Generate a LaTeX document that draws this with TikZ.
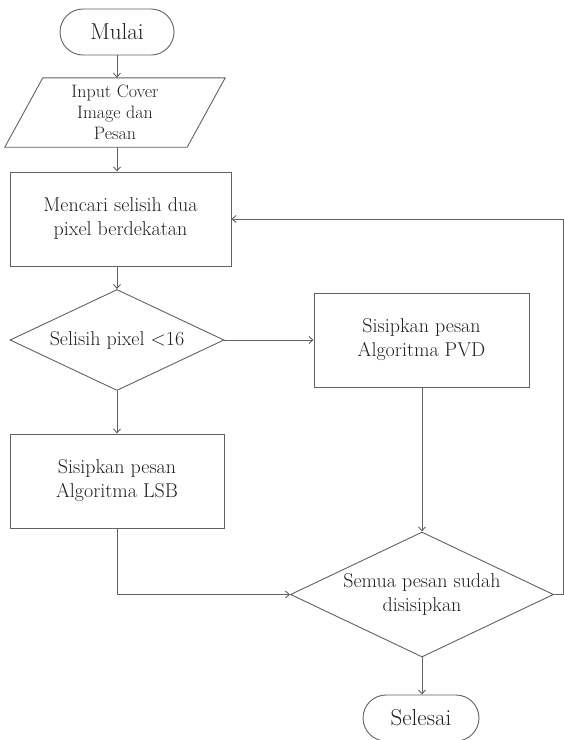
\documentclass[tikz,border=0pt]{standalone}
\usetikzlibrary{shapes.geometric,arrows.meta}
\begin{document}
\begin{tikzpicture}[x=1pt,y=-1pt,
  line/.style={draw=black!62, line width=0.9pt},
  arr/.style={line, -{Straight Barb[length=4pt,width=7pt]}},
  txt/.style={text=black!88, align=center, inner sep=0pt},
  proc/.style={line, txt, rectangle, minimum width=#1, minimum height=94pt, font=\fontsize{20}{24}\selectfont},
  decision/.style 2 args={line, txt, diamond, aspect=2.1, minimum width=#1, minimum height=#2, font=\fontsize{20}{24}\selectfont},
  term/.style={line, txt, rectangle, rounded corners=23pt, minimum width=#1, minimum height=46pt, font=\fontsize{23}{27}\selectfont},
  iobox/.style={txt, rectangle, minimum width=182pt, minimum height=69pt, font=\fontsize{18}{21}\selectfont}
]
\useasboundingbox (0,0) rectangle (564,740);

\node[term=114pt] (mulai) at (117,32) {Mulai};
\node[iobox] (io) at (115,112.5) {Input Cover\\Image dan\\Pesan};
\draw[line] ([xshift=19pt]io.north west) -- ([xshift=19pt]io.north east)
  -- ([xshift=-19pt]io.south east) -- ([xshift=-19pt]io.south west) -- cycle;
\node[proc=221pt] (cari) at (120.5,219) {Mencari selisih dua\\pixel berdekatan};
\node[decision={214pt}{101pt}] (d1) at (117,340) {Selisih pixel <16};
\node[proc=215pt] (pvd) at (421.5,340) {Sisipkan pesan\\Algoritma PVD};
\node[proc=214pt] (lsb) at (117,481) {Sisipkan pesan\\Algoritma LSB};
\node[decision={263pt}{125pt}] (d2) at (422,594.5) {Semua pesan sudah\\disisipkan};
\node[term=116pt] (selesai) at (421,718) {Selesai};
\coordinate (rx) at (563,0);

\draw[arr] (mulai.south) -- (mulai.south |- io.north);
\draw[arr] (mulai.south |- io.south) -- (mulai.south |- cari.north);
\draw[arr] (d1.north |- cari.south) -- (d1.north);
\draw[arr] (d1.east) -- (pvd.west);
\draw[arr] (d1.south) -- (lsb.north);
\draw[arr] (pvd.south -| d2.north) -- (d2.north);
\draw[arr] (lsb.south) |- (d2.west);
\draw[arr] (d2.east) -- (d2.east -| rx) |- (cari.east);
\draw[arr] (d2.south) -- (selesai.north -| d2.south);
\end{tikzpicture}
\end{document}
